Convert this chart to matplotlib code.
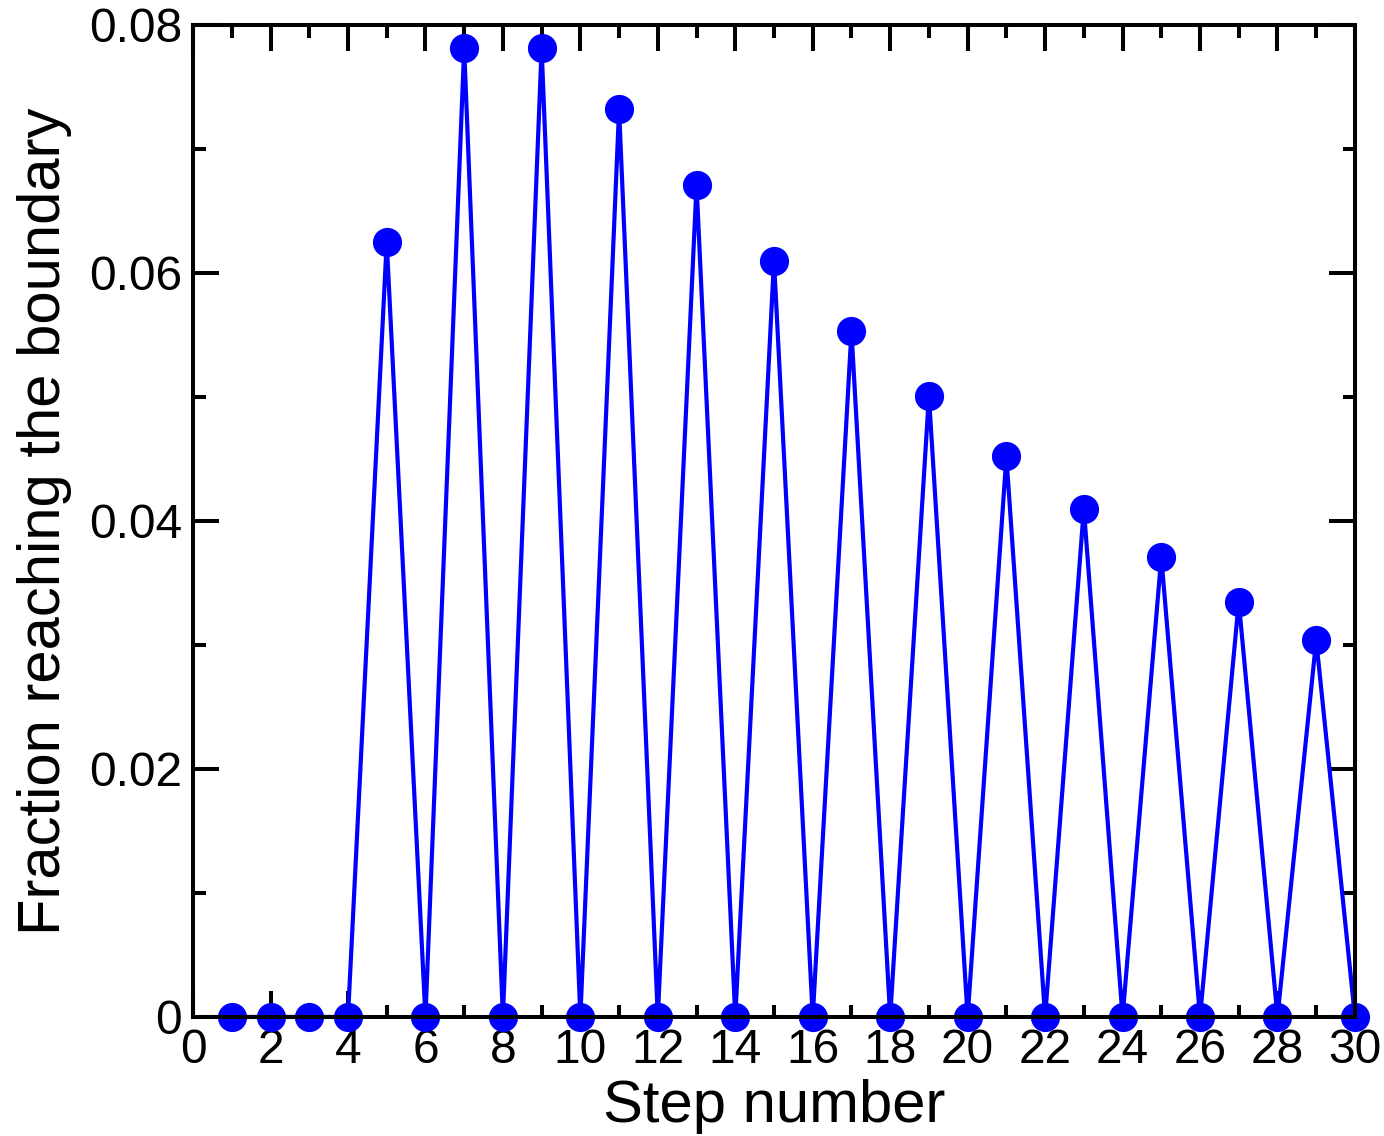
import matplotlib
matplotlib.use("Agg")
import matplotlib.pyplot as plt
from matplotlib.ticker import MultipleLocator, FuncFormatter

plt.rcParams['font.family'] = ['Liberation Sans', 'DejaVu Sans']

steps = list(range(1, 31))
fraction = [0, 0, 0, 0, 0.0625, 0, 0.078125, 0, 0.078125, 0,
            0.0732, 0, 0.0671, 0, 0.0610, 0, 0.0553, 0, 0.0501, 0,
            0.0452, 0, 0.0410, 0, 0.0371, 0, 0.0335, 0, 0.0304, 0]

fig = plt.figure(figsize=(13.84, 11.36), dpi=100)
ax = fig.add_axes([0.1395, 0.1048, 0.8395, 0.8732])

ax.plot(steps, fraction, color='#0000ff', lw=3.0, marker='o', ms=21,
        markeredgewidth=0, clip_on=False, zorder=2)

ax.set_xlim(0, 30)
ax.set_ylim(0, 0.08)
ax.xaxis.set_major_locator(MultipleLocator(2))
ax.xaxis.set_minor_locator(MultipleLocator(1))
ax.yaxis.set_major_locator(MultipleLocator(0.02))
ax.yaxis.set_minor_locator(MultipleLocator(0.01))

def yfmt(v, pos):
    return '0' if abs(v) < 1e-12 else f'{v:.2f}'

ax.yaxis.set_major_formatter(FuncFormatter(yfmt))

for s in ax.spines.values():
    s.set_linewidth(2.9)
    s.set_zorder(3)

ax.tick_params(which='both', direction='in', top=True, right=True,
               width=2.9, labelsize=34.5, pad=8)
ax.tick_params(which='major', length=19)
ax.tick_params(which='minor', length=9)

ax.set_xlabel('Step number', fontsize=43, labelpad=4)
ax.set_ylabel('Fraction reaching the boundary', fontsize=43, labelpad=12)

fig.savefig('out.png', dpi=100)
